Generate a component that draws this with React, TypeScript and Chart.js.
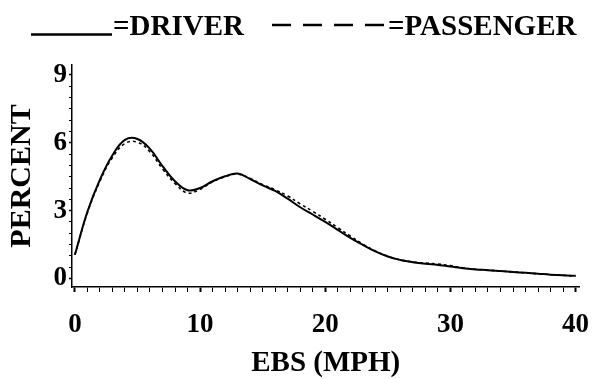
import { useEffect, useRef } from 'react';
import { Chart, registerables } from 'chart.js';

Chart.register(...registerables);

const EBS_MPH = [0, 1, 2, 3, 4, 5, 6, 7, 8, 9, 10, 11, 12, 13, 14, 15, 16, 17, 18, 19, 20, 21, 22, 23, 24, 25, 26, 27, 28, 29, 30, 31, 32, 33, 34, 35, 36, 37, 38, 39, 40];
const DRIVER = [1.05, 2.95, 4.37, 5.45, 6.13, 6.17, 5.73, 4.97, 4.3, 3.9, 4.0, 4.3, 4.52, 4.64, 4.4, 4.12, 3.87, 3.53, 3.15, 2.83, 2.5, 2.15, 1.8, 1.49, 1.2, 0.97, 0.82, 0.72, 0.65, 0.6, 0.53, 0.45, 0.4, 0.37, 0.33, 0.29, 0.25, 0.21, 0.17, 0.14, 0.12];
const PASSENGER = [1.05, 2.9, 4.3, 5.35, 5.97, 6.03, 5.6, 4.85, 4.2, 3.78, 3.95, 4.28, 4.5, 4.62, 4.42, 4.15, 3.92, 3.65, 3.3, 2.97, 2.62, 2.25, 1.88, 1.52, 1.22, 0.98, 0.82, 0.73, 0.68, 0.64, 0.57, 0.47, 0.41, 0.37, 0.33, 0.29, 0.25, 0.21, 0.17, 0.14, 0.11];

const X_TICKS = [0, 1, 2, 3, 4, 5, 6, 7, 8, 9, 10, 11, 12, 13, 14, 15, 16, 17, 18, 19, 20, 21, 22, 23, 24, 25, 26, 27, 28, 29, 30, 31, 32, 33, 34, 35, 36, 37, 38, 39, 40];
const X_LABELS = [0, 10, 20, 30, 40];
const Y_TICKS = [0, 0.5, 1, 1.5, 2, 2.5, 3, 3.5, 4, 4.5, 5, 5.5, 6, 6.5, 7, 7.5, 8, 8.5, 9];
const Y_LABELS = [0, 3, 6, 9];
const SERIES_NAMES = ['DRIVER', 'PASSENGER'];
const LEGEND_TEXT = ['=DRIVER', '=PASSENGER'];
const X_TITLE = 'EBS (MPH)';
const Y_TITLE = 'PERCENT';

const FONT = "'Liberation Serif', 'Times New Roman', serif";
const INK = '#000';

// Legend drawn in the header band above the plot: sample line + text per series.
const legendPlugin = {
  id: 'headerLegend',
  afterDraw(chart: any) {
    const ctx = chart.ctx as CanvasRenderingContext2D;
    const items = [
      { x0: 31, x1: 112, y: 34.5, dash: [] as number[], textX: 113 },
      { x0: 272, x1: 385, y: 25, dash: [19, 12], textX: 388 },
    ];
    ctx.save();
    ctx.font = `bold 29px ${FONT}`;
    ctx.fillStyle = INK;
    ctx.strokeStyle = INK;
    ctx.textBaseline = 'alphabetic';
    ctx.textAlign = 'left';
    items.forEach((it, i) => {
      ctx.lineWidth = 2.5;
      ctx.setLineDash(it.dash);
      ctx.beginPath();
      ctx.moveTo(it.x0, it.y);
      ctx.lineTo(it.x1, it.y);
      ctx.stroke();
      ctx.setLineDash([]);
      ctx.fillText(LEGEND_TEXT[i], it.textX, 35);
    });
    ctx.restore();
  },
};

export default function App() {
  const canvasRef = useRef<HTMLCanvasElement | null>(null);

  useEffect(() => {
    const canvas = canvasRef.current;
    if (!canvas) return;
    const chart = new Chart(canvas, {
      type: 'line',
      data: {
        datasets: [
          {
            label: SERIES_NAMES[0],
            data: EBS_MPH.map((x, i) => ({ x, y: DRIVER[i] })),
            borderColor: INK,
            borderWidth: 2,
            pointRadius: 0,
            fill: false,
            tension: 0.4,
          },
          {
            label: SERIES_NAMES[1],
            data: EBS_MPH.map((x, i) => ({ x, y: PASSENGER[i] })),
            borderColor: INK,
            borderWidth: 1.6,
            borderDash: [3, 3],
            pointRadius: 0,
            fill: false,
            tension: 0.4,
          },
        ],
      },
      options: {
        animation: false,
        responsive: true,
        maintainAspectRatio: false,
        layout: { padding: { left: 0, right: 13, top: 65, bottom: 0 } },
        plugins: {
          tooltip: { enabled: false },
          legend: { display: false },
        },
        scales: {
          x: {
            type: 'linear',
            position: 'bottom',
            min: -0.23,
            max: 40.31,
            afterBuildTicks: (s: any) => {
              s.ticks = X_TICKS.map((v) => ({ value: v }));
            },
            afterFit: (s: any) => {
              s.height = 92;
            },
            ticks: {
              autoSkip: false,
              maxRotation: 0,
              padding: 16.8,
              color: INK,
              font: { family: FONT, size: 27, weight: 'bold' },
              callback: (v: any) => (X_LABELS.includes(Number(v)) ? String(v) : ''),
            },
            grid: {
              display: true,
              drawOnChartArea: false,
              drawTicks: true,
              tickLength: 5,
              tickColor: INK,
              tickWidth: (ctx: any) => (ctx.tick && X_LABELS.includes(ctx.tick.value) ? 2 : 1),
            },
            border: { display: true, color: INK, width: 1.5 },
            title: {
              display: true,
              text: X_TITLE,
              color: INK,
              font: { family: FONT, size: 29, weight: 'bold' },
              padding: { top: 0, bottom: -2.4 },
            },
          },
          y: {
            type: 'linear',
            min: -0.376,
            max: 9.44,
            afterBuildTicks: (s: any) => {
              s.ticks = Y_TICKS.map((v) => ({ value: v }));
            },
            afterFit: (s: any) => {
              s.width = 72;
            },
            ticks: {
              autoSkip: false,
              padding: 2,
              color: INK,
              font: { family: FONT, size: 27, weight: 'bold' },
              callback: (v: any) => (Y_LABELS.includes(Number(v)) ? String(v) : ''),
            },
            grid: {
              display: true,
              drawOnChartArea: false,
              drawTicks: true,
              tickLength: 3,
              tickColor: INK,
              tickWidth: (ctx: any) => (ctx.tick && Y_LABELS.includes(ctx.tick.value) ? 1.5 : 1),
            },
            border: { display: true, color: INK, width: 1.5 },
            title: {
              display: true,
              text: Y_TITLE,
              color: INK,
              font: { family: FONT, size: 30, weight: 'bold' },
              padding: { top: 4, bottom: 0 },
            },
          },
        },
      },
      plugins: [legendPlugin],
    } as any);
    return () => chart.destroy();
  }, []);

  return (
    <div style={{ position: 'fixed', left: 0, top: 0, width: 606, height: 379, background: '#fff' }}>
      <canvas ref={canvasRef} />
    </div>
  );
}
